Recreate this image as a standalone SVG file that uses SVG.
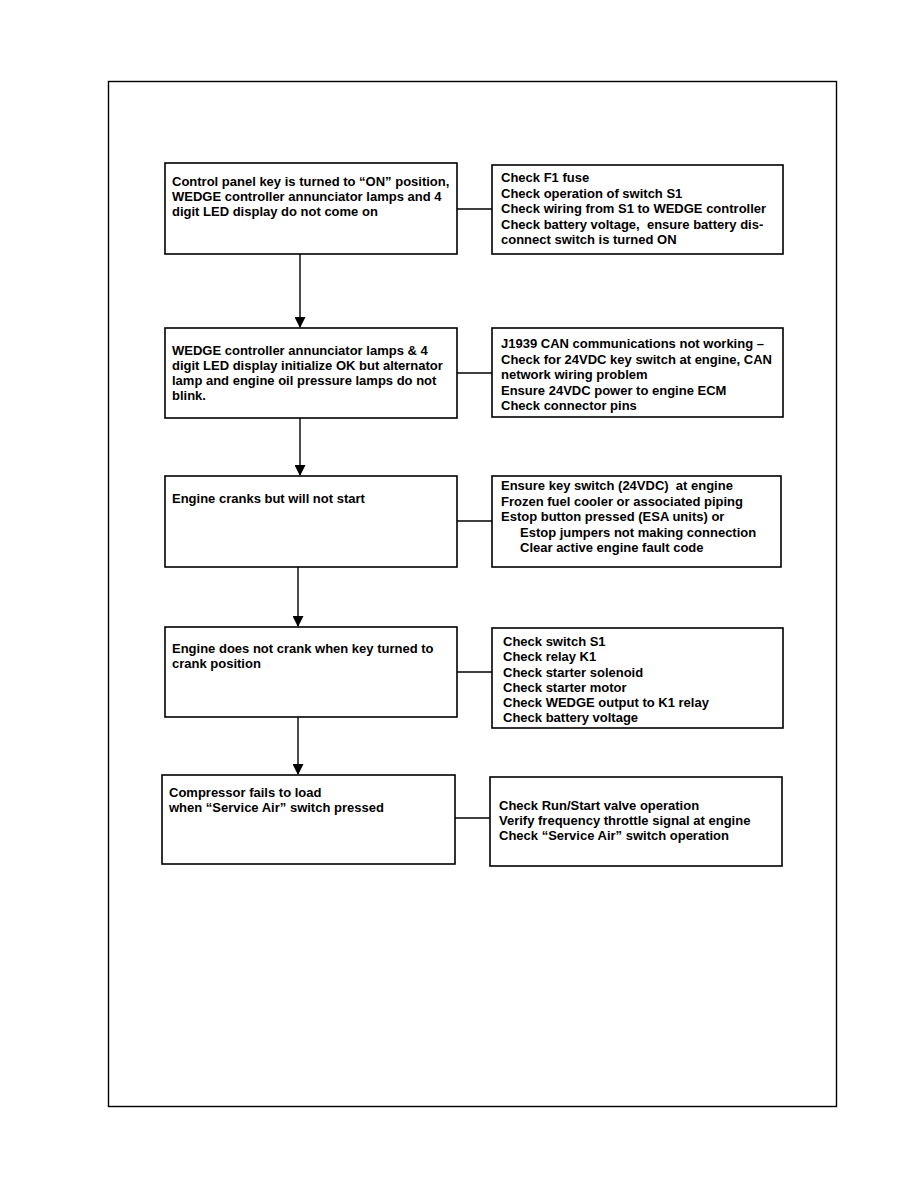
<svg xmlns="http://www.w3.org/2000/svg" width="918" height="1188" viewBox="0 0 918 1188">
<style>
.box{fill:#fff;stroke:#000;stroke-width:1.6}
.t{font-family:"Liberation Sans",Arial,sans-serif;font-weight:bold;font-size:13px;fill:#000}
.c{stroke:#000;stroke-width:1.4;fill:none}
</style>
<defs>
<marker id="ah" markerWidth="11" markerHeight="11" refX="10" refY="5.5" orient="auto" markerUnits="userSpaceOnUse">
<path d="M0,0 L11,5.5 L0,11 Z" fill="#000"/>
</marker>
</defs>
<rect x="0" y="0" width="918" height="1188" fill="#fff"/>
<rect x="108.5" y="81.5" width="728" height="1025" fill="none" stroke="#000" stroke-width="1.4"/>
<g id="connectors">
<line class="c" x1="300" y1="254" x2="300" y2="327" marker-end="url(#ah)"/>
<line class="c" x1="300" y1="418" x2="300" y2="475" marker-end="url(#ah)"/>
<line class="c" x1="298" y1="567" x2="298" y2="626" marker-end="url(#ah)"/>
<line class="c" x1="298" y1="717" x2="298" y2="774" marker-end="url(#ah)"/>
<line class="c" x1="457" y1="209" x2="492" y2="209"/>
<line class="c" x1="457" y1="373" x2="492" y2="373"/>
<line class="c" x1="457" y1="521" x2="492" y2="521"/>
<line class="c" x1="457" y1="672" x2="492" y2="672"/>
<line class="c" x1="455" y1="818" x2="490" y2="818"/>
</g>
<g id="n1">
<rect class="box" x="165" y="163" width="292" height="91"/>
<text class="t" x="172" y="186">Control panel key is turned to “ON” position,</text>
<text class="t" x="172" y="201">WEDGE controller annunciator lamps and 4</text>
<text class="t" x="172" y="216">digit LED display do not come on</text>
</g>
<g id="r1">
<rect class="box" x="492" y="165" width="291" height="89"/>
<text class="t" x="501" y="182">Check F1 fuse</text>
<text class="t" x="501" y="197.5">Check operation of switch S1</text>
<text class="t" x="501" y="213">Check wiring from S1 to WEDGE controller</text>
<text class="t" x="501" y="228.5" xml:space="preserve">Check battery voltage,  ensure battery dis-</text>
<text class="t" x="501" y="244">connect switch is turned ON</text>
</g>
<g id="n2">
<rect class="box" x="165" y="328" width="292" height="90"/>
<text class="t" x="172" y="355">WEDGE controller annunciator lamps &amp; 4</text>
<text class="t" x="172" y="370">digit LED display initialize OK but alternator</text>
<text class="t" x="172" y="385">lamp and engine oil pressure lamps do not</text>
<text class="t" x="172" y="400">blink.</text>
</g>
<g id="r2">
<rect class="box" x="492" y="328" width="291" height="89"/>
<text class="t" x="501" y="348">J1939 CAN communications not working –</text>
<text class="t" x="501" y="363.5">Check for 24VDC key switch at engine, CAN</text>
<text class="t" x="501" y="379">network wiring problem</text>
<text class="t" x="501" y="394.5">Ensure 24VDC power to engine ECM</text>
<text class="t" x="501" y="410">Check connector pins</text>
</g>
<g id="n3">
<rect class="box" x="165" y="476" width="292" height="91"/>
<text class="t" x="172" y="503">Engine cranks but will not start</text>
</g>
<g id="r3">
<rect class="box" x="492" y="476" width="289" height="91"/>
<text class="t" x="501" y="490" xml:space="preserve">Ensure key switch (24VDC)  at engine</text>
<text class="t" x="501" y="505.5">Frozen fuel cooler or associated piping</text>
<text class="t" x="501" y="521">Estop button pressed (ESA units) or</text>
<text class="t" x="520" y="536.5">Estop jumpers not making connection</text>
<text class="t" x="520" y="552">Clear active engine fault code</text>
</g>
<g id="n4">
<rect class="box" x="165" y="627" width="292" height="90"/>
<text class="t" x="172" y="653">Engine does not crank when key turned to</text>
<text class="t" x="172" y="668">crank position</text>
</g>
<g id="r4">
<rect class="box" x="492" y="628" width="291" height="100"/>
<text class="t" x="503" y="646">Check switch S1</text>
<text class="t" x="503" y="661">Check relay K1</text>
<text class="t" x="503" y="676.5">Check starter solenoid</text>
<text class="t" x="503" y="691.5">Check starter motor</text>
<text class="t" x="503" y="707">Check WEDGE output to K1 relay</text>
<text class="t" x="503" y="722">Check battery voltage</text>
</g>
<g id="n5">
<rect class="box" x="162" y="775" width="293" height="89"/>
<text class="t" x="169" y="797">Compressor fails to load</text>
<text class="t" x="169" y="812">when “Service Air” switch pressed</text>
</g>
<g id="r5">
<rect class="box" x="490" y="777" width="292" height="89"/>
<text class="t" x="499" y="810">Check Run/Start valve operation</text>
<text class="t" x="499" y="825">Verify frequency throttle signal at engine</text>
<text class="t" x="499" y="839.5">Check “Service Air” switch operation</text>
</g>
</svg>
